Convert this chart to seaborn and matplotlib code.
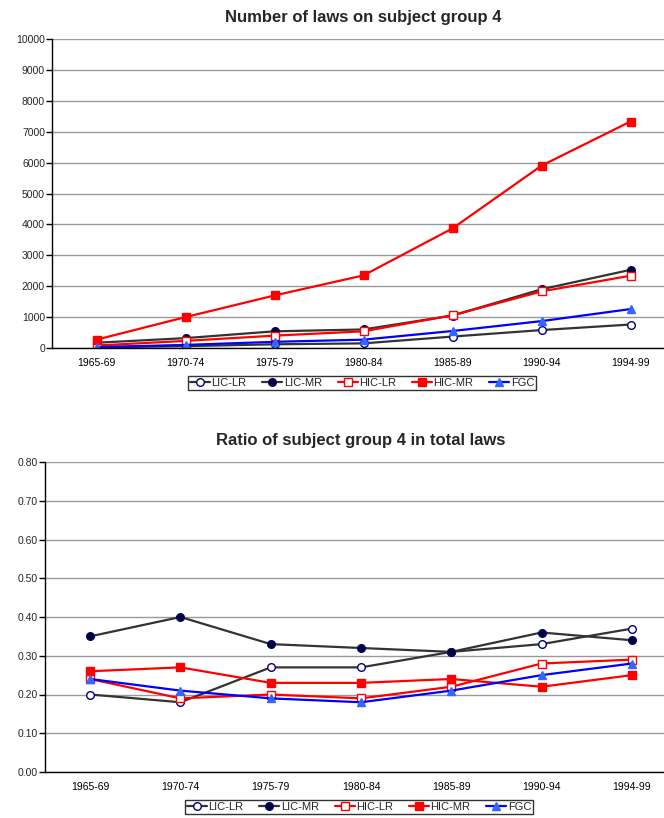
import matplotlib
matplotlib.use("Agg")
import matplotlib.pyplot as plt
import seaborn as sns
import pandas as pd
import numpy as np
from matplotlib.ticker import FixedLocator

sns.set_theme(style="white")
plt.rcParams["font.family"] = ["Liberation Sans", "DejaVu Sans"]

periods = ["1965-69", "1970-74", "1975-79", "1980-84", "1985-89", "1990-94", "1994-99"]
series_names = ["LIC-LR", "LIC-MR", "HIC-LR", "HIC-MR", "FGC"]

# Number of laws on subject group 4
laws_lic_lr = [20, 60, 120, 150, 370, 580, 760]
laws_lic_mr = [170, 320, 540, 600, 1050, 1900, 2530]
laws_hic_lr = [80, 230, 400, 540, 1060, 1830, 2340]
laws_hic_mr = [270, 1000, 1700, 2350, 3870, 5900, 7330]
laws_fgc = [30, 100, 200, 270, 550, 870, 1260]

# Ratio of subject group 4 in total laws
ratio_lic_lr = [0.20, 0.18, 0.27, 0.27, 0.31, 0.33, 0.37]
ratio_lic_mr = [0.35, 0.40, 0.33, 0.32, 0.31, 0.36, 0.34]
ratio_hic_lr = [0.24, 0.19, 0.20, 0.19, 0.22, 0.28, 0.29]
ratio_hic_mr = [0.26, 0.27, 0.23, 0.23, 0.24, 0.22, 0.25]
ratio_fgc = [0.24, 0.21, 0.19, 0.18, 0.21, 0.25, 0.28]

styles = {
    "LIC-LR": dict(color="#333333", marker="o", mfc="white", mec="#000080"),
    "LIC-MR": dict(color="#333333", marker="o", mfc="#000022", mec="#000080"),
    "HIC-LR": dict(color="#ff0000", marker="s", mfc="white", mec="#ff0000"),
    "HIC-MR": dict(color="#ff0000", marker="s", mfc="#ff0000", mec="#ff0000"),
    "FGC": dict(color="#0000ff", marker="^", mfc="#3366ff", mec="#3366ff"),
}


def long_frame(values):
    rows = []
    for name, vals in zip(series_names, values):
        for i, (p, v) in enumerate(zip(periods, vals)):
            rows.append({"series": name, "pos": i, "period": p, "value": v})
    return pd.DataFrame(rows)


def draw(ax, df, ymax, ystep, fmt, title):
    for name in series_names:
        st = styles[name]
        sub = df[df["series"] == name]
        sns.lineplot(data=sub, x="pos", y="value", ax=ax, color=st["color"],
                     linewidth=1.6, marker=st["marker"], markersize=5.5,
                     markerfacecolor=st["mfc"], markeredgecolor=st["mec"],
                     markeredgewidth=1.0, label=name, legend=False)
    ax.set_xlim(-0.5, len(periods) - 0.5)
    ax.set_ylim(0, ymax)
    yt = np.arange(0, ymax + ystep / 2, ystep)
    ax.set_yticks(yt)
    ax.set_yticklabels([fmt(v) for v in yt])
    ax.yaxis.grid(True, color="#999999", linewidth=1.0)
    ax.set_axisbelow(True)
    ax.set_xticks(range(len(periods)))
    ax.set_xticklabels(periods)
    ax.xaxis.set_minor_locator(FixedLocator(np.arange(-0.5, len(periods), 1.0)))
    ax.tick_params(axis="x", which="major", length=0, labelsize=7.5, pad=7.5, colors="black")
    ax.tick_params(axis="x", which="minor", length=4, width=1, color="black", direction="out")
    ax.tick_params(axis="y", length=4, width=1, color="black", direction="out",
                   labelsize=7.5, pad=1, left=True)
    for s in ["top", "right"]:
        ax.spines[s].set_visible(False)
    for s in ["left", "bottom"]:
        ax.spines[s].set_color("black")
        ax.spines[s].set_linewidth(1.0)
    ax.set_xlabel("")
    ax.set_ylabel("")
    ax.set_title(title, fontsize=12, fontweight="bold", pad=12)
    handles, labels = ax.get_legend_handles_labels()
    return handles, labels


def add_legend(fig, handles, labels, cx, cy):
    leg = fig.legend(handles, labels, loc="center", bbox_to_anchor=(cx / 664, 1 - cy / 818),
                     ncol=5, fontsize=8, frameon=True, fancybox=False, handlelength=1.8,
                     handletextpad=0.15, columnspacing=1.4, borderpad=0.2, borderaxespad=0)
    leg.get_frame().set_edgecolor("black")
    leg.get_frame().set_linewidth(1.0)
    return leg


fig = plt.figure(figsize=(6.64, 8.18), dpi=100)

ax1 = fig.add_axes([52 / 664, 1 - 348 / 818, 623 / 664, 309 / 818])
df1 = long_frame([laws_lic_lr, laws_lic_mr, laws_hic_lr, laws_hic_mr, laws_fgc])
h, l = draw(ax1, df1, 10000, 1000, lambda v: f"{int(v)}", "Number of laws on subject group 4")
add_legend(fig, h, l, 362, 383)

ax2 = fig.add_axes([45 / 664, 1 - 772 / 818, 632 / 664, 310 / 818])
df2 = long_frame([ratio_lic_lr, ratio_lic_mr, ratio_hic_lr, ratio_hic_mr, ratio_fgc])
h, l = draw(ax2, df2, 0.80, 0.10, lambda v: f"{v:.2f}", "Ratio of subject group 4 in total laws")
add_legend(fig, h, l, 359, 807)

fig.savefig("out.png", dpi=100, facecolor="white")
